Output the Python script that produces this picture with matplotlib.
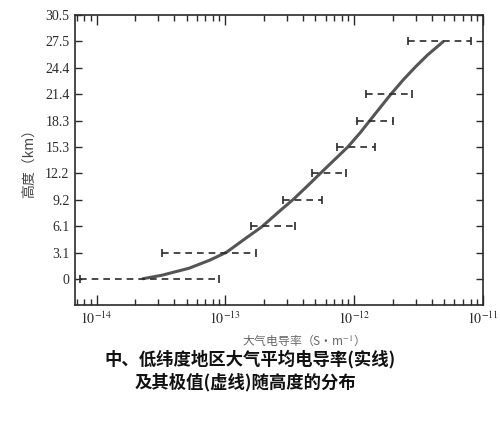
import numpy as np
import matplotlib
matplotlib.use("Agg")
import matplotlib.pyplot as plt
from matplotlib.ticker import LogLocator, FixedLocator, NullFormatter

# Mean conductivity curve (log10 S/m) vs altitude (km)
curve_logx = [-13.64, -13.49, -13.28, -13.12, -12.99, -12.84, -12.72, -12.57, -12.47,
              -12.34, -12.26, -12.155, -12.05, -11.955, -11.875, -11.72, -11.62, -11.525,
              -11.43, -11.31]
curve_alt = [0.05, 0.46, 1.27, 2.20, 3.12, 4.74, 6.01, 7.97, 9.24,
             11.09, 12.25, 13.75, 15.25, 16.87, 18.37, 21.26, 22.99, 24.49,
             25.88, 27.4]

# Extreme values (dashed ranges)
range_alt = [0.0, 3.05, 6.1, 9.15, 12.2, 15.25, 18.3, 21.35, 27.45]
range_lo = [-14.13, -13.49, -12.80, -12.55, -12.33, -12.13, -11.98, -11.91, -11.58]
range_hi = [-13.05, -12.76, -12.46, -12.25, -12.06, -11.84, -11.70, -11.55, -11.09]

ytick_vals = [0, 3.05, 6.1, 9.15, 12.2, 15.25, 18.3, 21.35, 24.4, 27.45, 30.5]
ytick_labels = ['0', '3.1', '6.1', '9.2', '12.2', '15.3', '18.3', '21.4', '24.4', '27.5', '30.5']
xtick_vals = [1e-14, 1e-13, 1e-12, 1e-11]
xtick_labels = [r'$10^{-14}$', r'$10^{-13}$', r'$10^{-12}$', r'$10^{-11}$']

serif = ['Liberation Serif', 'DejaVu Serif']
cjk = ['Noto Sans CJK SC', 'DejaVu Sans']
plt.rcParams['mathtext.fontset'] = 'stix'

fig = plt.figure(figsize=(5, 4.25), dpi=100)
ax = fig.add_axes([0.15, 0.282, 0.816, 0.683])

ink = '#2a2a2a'
xs = 10.0 ** np.array(curve_logx)
ax.plot(xs, curve_alt, color='#555555', lw=2.2, solid_capstyle='round',
        solid_joinstyle='round')

lo = 10.0 ** np.array(range_lo)
hi = 10.0 ** np.array(range_hi)
ax.hlines(range_alt, lo, hi, colors=ink, linestyles=(0, (4, 3)), lw=1.2)
ax.plot(lo, range_alt, ls='none', marker='|', ms=6, mew=1.2, color=ink)
ax.plot(hi, range_alt, ls='none', marker='|', ms=6, mew=1.2, color=ink)

ax.set_xscale('log')
ax.set_xlim(6.8e-15, 1e-11)
ax.set_ylim(-3.0, 30.5)

ax.xaxis.set_major_locator(FixedLocator(xtick_vals))
ax.set_xticklabels(xtick_labels, fontsize=10, color=ink)
ax.xaxis.set_minor_locator(LogLocator(base=10, subs=np.arange(2, 10) * 1.0, numticks=20))
ax.xaxis.set_minor_formatter(NullFormatter())
ax.set_yticks(ytick_vals)
ax.set_yticklabels(ytick_labels, fontsize=10, color=ink, family=serif)

ax.tick_params(axis='both', which='major', direction='in', length=7, width=1.0,
               top=True, right=True, colors=ink, pad=4)
ax.tick_params(axis='both', which='minor', direction='in', length=4, width=1.0,
               top=True, right=True, colors=ink)
ax.tick_params(axis='y', which='major', length=5)
for sp in ax.spines.values():
    sp.set_linewidth(1.2)
    sp.set_color(ink)

ax.set_ylabel('高度（km）', fontsize=10, family=cjk, color='#444444', labelpad=6)
fig.text(0.60, 0.200, '大气电导率（S·m$^{-1}$）', fontsize=8.5, family=cjk,
         color='#666666', ha='center', va='center')
fig.text(0.50, 0.155, '中、低纬度地区大气平均电导率(实线)', fontsize=12.5,
         family=cjk, fontweight='bold', color='#111111', ha='center', va='center')
fig.text(0.49, 0.100, '及其极值(虚线)随高度的分布', fontsize=12.5,
         family=cjk, fontweight='bold', color='#111111', ha='center', va='center')

fig.savefig('out.png', dpi=100, facecolor='white')
